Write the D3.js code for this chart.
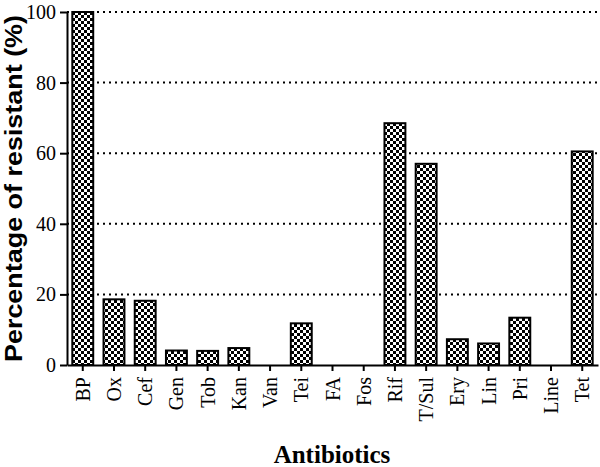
<!DOCTYPE html>
<html>
<head>
<meta charset="utf-8">
<script src="https://cdn.jsdelivr.net/npm/d3@7"></script>
<style>
  body { margin: 0; background: #fff; }
  svg { display: block; }
</style>
</head>
<body>
<div id="chart"></div>
<script>
// antibiotic names and resistance (%)
var antibiotics = ["BP", "Ox", "Cef", "Gen", "Tob", "Kan", "Van", "Tei", "FA", "Fos",
                   "Rif", "T/Sul", "Ery", "Lin", "Pri", "Line", "Tet"];
var resistant = [100, 18.6, 18.2, 4.1, 4.0, 4.8, 0, 11.8, 0, 0,
                 68.5, 57.0, 7.3, 6.1, 13.4, 0, 60.5];
var yTicks = [0, 20, 40, 60, 80, 100];

var width = 600, height = 467;
var margin = { left: 67, right: 2, top: 12, bottom: 102 };
var serif = "Liberation Serif";
var sans = "Liberation Sans";

var svg = d3.select("#chart")
    .append("svg")
    .attr("width", width)
    .attr("height", height);

// checkerboard fill
var pat = svg.append("defs").append("pattern")
    .attr("id", "checks")
    .attr("patternUnits", "userSpaceOnUse")
    .attr("width", 6)
    .attr("height", 6);
pat.append("rect").attr("width", 6).attr("height", 6).attr("fill", "#fff");
pat.append("rect").attr("x", 0).attr("y", 0).attr("width", 3).attr("height", 3).attr("fill", "#000");
pat.append("rect").attr("x", 3).attr("y", 3).attr("width", 3).attr("height", 3).attr("fill", "#000");

var x = d3.scaleBand()
    .domain(antibiotics)
    .range([margin.left, width - margin.right])
    .paddingInner(0.33)
    .paddingOuter(0.17);

var y = d3.scaleLinear()
    .domain([0, 100])
    .range([height - margin.bottom, margin.top]);

// dotted gridlines
svg.append("g")
    .selectAll("line")
    .data(yTicks.filter(function (d) { return d > 0; }))
    .enter().append("line")
    .attr("x1", margin.left)
    .attr("x2", width - margin.right)
    .attr("y1", function (d) { return y(d); })
    .attr("y2", function (d) { return y(d); })
    .attr("stroke", "#000")
    .attr("stroke-width", 2)
    .attr("stroke-dasharray", "2,4");

// bars (zero values have no bar)
svg.append("g")
    .selectAll("rect")
    .data(resistant.map(function (v, i) { return { name: antibiotics[i], value: v }; })
        .filter(function (d) { return d.value > 0; }))
    .enter().append("rect")
    .attr("x", function (d) { return x(d.name); })
    .attr("y", function (d) { return y(d.value); })
    .attr("width", x.bandwidth())
    .attr("height", function (d) { return y(0) - y(d.value); })
    .attr("fill", "url(#checks)")
    .attr("stroke", "#000")
    .attr("stroke-width", 2);

// y axis
var yAxis = svg.append("g")
    .attr("transform", "translate(" + margin.left + ",0)")
    .call(d3.axisLeft(y).tickValues(yTicks).tickSize(7).tickSizeOuter(0).tickPadding(4));
yAxis.attr("font-family", serif).attr("font-size", 20);
yAxis.selectAll("text").attr("fill", "#000");

// x axis (labels drawn separately, rotated)
var xAxis = svg.append("g")
    .attr("transform", "translate(0," + y(0) + ")")
    .call(d3.axisBottom(x).tickSize(6).tickSizeOuter(0).tickFormat(""));

svg.selectAll(".domain, .tick line")
    .attr("stroke", "#000")
    .attr("stroke-width", 2);

svg.append("g")
    .selectAll("text")
    .data(antibiotics)
    .enter().append("text")
    .attr("transform", function (d) {
        return "translate(" + (x(d) + x.bandwidth() / 2 + 7) + "," + (y(0) + 12) + ") rotate(-90)";
    })
    .attr("text-anchor", "end")
    .attr("font-family", serif)
    .attr("font-size", 20)
    .attr("fill", "#000")
    .text(function (d) { return d; });

// axis titles
svg.append("text")
    .attr("transform", "translate(22," + ((y(0) + y(100)) / 2) + ") rotate(-90)")
    .attr("text-anchor", "middle")
    .attr("font-family", sans)
    .attr("font-weight", "bold")
    .attr("font-size", 24)
    .attr("textLength", 347)
    .attr("lengthAdjust", "spacingAndGlyphs")
    .text("Percentage of resistant (%)");

svg.append("text")
    .attr("x", 332)
    .attr("y", 463)
    .attr("text-anchor", "middle")
    .attr("font-family", serif)
    .attr("font-weight", "bold")
    .attr("font-size", 25)
    .text("Antibiotics");
</script>
</body>
</html>
